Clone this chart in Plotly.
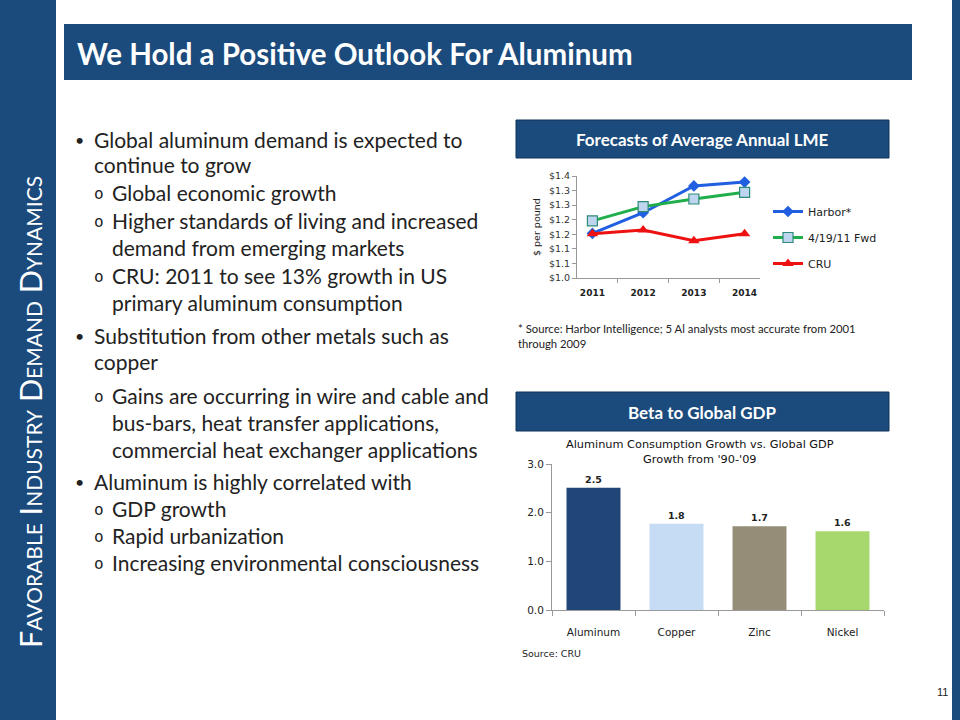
import plotly.graph_objects as go

# ---------------- data ----------------
years = ["2011", "2012", "2013", "2014"]
harbor = [1.153, 1.224, 1.316, 1.329]
fwd = [1.196, 1.245, 1.271, 1.294]
cru = [1.152, 1.165, 1.128, 1.152]
lme_tickvals = [1.00, 1.05, 1.10, 1.15, 1.20, 1.25, 1.30, 1.35]
lme_ticktext = ["$1.0", "$1.1", "$1.1", "$1.2", "$1.2", "$1.3", "$1.3", "$1.4"]

metals = ["Aluminum", "Copper", "Zinc", "Nickel"]
beta = [2.51, 1.77, 1.72, 1.62]
metal_colors = ["#1F4677", "#C6DCF5", "#958D78", "#A7D86E"]

W, H = 960, 720
NAVY = "#1B4A7C"


def px(x):
    return x / W


def py(y):
    return 1 - y / H


fig = go.Figure()

# ---------------- line chart ----------------
fig.add_trace(go.Scatter(
    x=years, y=harbor, name="Harbor*", mode="lines+markers",
    line=dict(color="#1F5FE0", width=3),
    marker=dict(symbol="diamond", size=9, color="#1F5FE0"),
    xaxis="x", yaxis="y", legendgroup="a"))
fig.add_trace(go.Scatter(
    x=years, y=fwd, name="4/19/11 Fwd", mode="lines+markers",
    line=dict(color="#1FAE4A", width=3),
    marker=dict(symbol="square", size=10, color="#BDD5EE",
                line=dict(color="#2E8B7A", width=1.2)),
    xaxis="x", yaxis="y", legendgroup="b"))
fig.add_trace(go.Scatter(
    x=years, y=cru, name="CRU", mode="lines+markers",
    line=dict(color="#EE1111", width=3),
    marker=dict(symbol="triangle-up", size=10, color="#EE1111"),
    xaxis="x", yaxis="y", legendgroup="c"))

# ---------------- bar chart ----------------
fig.add_trace(go.Bar(
    x=metals, y=beta, marker=dict(color=metal_colors, line=dict(width=0)),
    texttemplate="%{y:.1f}", textposition="outside",
    textfont=dict(family="DejaVu Sans", size=9.5, color="#222", weight="bold"),
    cliponaxis=False, showlegend=False, width=0.65,
    xaxis="x2", yaxis="y2"))

axis_font = dict(family="DejaVu Sans", size=9.5, color="#333")

fig.update_layout(
    width=W, height=H,
    margin=dict(l=0, r=0, t=0, b=0, pad=0, autoexpand=False),
    paper_bgcolor="white", plot_bgcolor="rgba(0,0,0,0)",
    font=dict(family="DejaVu Sans", color="#222"),
    showlegend=True,
    legend=dict(x=px(768), y=py(197), xanchor="left", yanchor="top",
                font=dict(family="DejaVu Sans", size=11, color="#222"),
                tracegroupgap=7, bgcolor="rgba(0,0,0,0)", itemwidth=30),
    xaxis=dict(domain=[px(577), px(760)], type="category",
               showgrid=False, showline=True, linecolor="#999", linewidth=1,
               ticks="outside", tickson="boundaries", ticklen=4, tickcolor="#999",
               tickfont=dict(family="DejaVu Sans", size=9, color="#222", weight="bold"),
               ticklabelstandoff=6, zeroline=False),
    yaxis=dict(domain=[py(278), py(176)], range=[1.0, 1.35],
               tickvals=lme_tickvals, ticktext=lme_ticktext,
               showgrid=False, showline=True, linecolor="#999", linewidth=1,
               ticks="outside", ticklen=4, tickcolor="#999",
               tickfont=axis_font, zeroline=False),
    xaxis2=dict(domain=[px(552), px(884)], type="category",
                showgrid=False, showline=True, linecolor="#999", linewidth=1,
                ticks="outside", tickson="boundaries", ticklen=5, tickcolor="#999",
                tickfont=dict(family="DejaVu Sans", size=10.5, color="#222"),
                ticklabelstandoff=12, zeroline=False, anchor="y2"),
    yaxis2=dict(domain=[py(610), py(464)], range=[0, 3], dtick=1,
                tickformat=".1f",
                showgrid=False, showline=True, linecolor="#999", linewidth=1,
                ticks="outside", ticklen=5, tickcolor="#999",
                tickfont=dict(family="DejaVu Sans", size=10.5, color="#222"),
                zeroline=False, anchor="x2"),
)

shapes = []
ann = []

# side bars
shapes.append(dict(type="rect", xref="paper", yref="paper", x0=0, x1=px(56), y0=0, y1=1,
                   fillcolor=NAVY, line=dict(width=0), layer="below"))
shapes.append(dict(type="rect", xref="paper", yref="paper", x0=px(952), x1=1, y0=0, y1=1,
                   fillcolor=NAVY, line=dict(width=0), layer="below"))
# title bar
shapes.append(dict(type="rect", xref="paper", yref="paper", x0=px(64), x1=px(912), y0=py(80), y1=py(24),
                   fillcolor=NAVY, line=dict(width=0), layer="below"))
# chart header boxes
for y0, y1 in [(120, 158), (392, 431)]:
    shapes.append(dict(type="rect", xref="paper", yref="paper", x0=px(516), x1=px(889), y0=py(y1), y1=py(y0),
                       fillcolor=NAVY, line=dict(color="#10335A", width=1), layer="below"))

ann.append(dict(text="We Hold a Positive Outlook For Aluminum", x=px(75), y=py(54), xanchor="left", yanchor="middle",
                font=dict(family="Lato", size=29.5, color="white", weight="bold")))
ann.append(dict(text="Favorable Industry Demand Dynamics", x=px(30), y=py(412), textangle=-90,
                xanchor="center", yanchor="middle",
                font=dict(family="Lato", size=30.5, color="white", variant="small-caps")))
ann.append(dict(text="Forecasts of Average Annual LME", x=px(702), y=py(140), xanchor="center", yanchor="middle",
                font=dict(family="Lato", size=17, color="white", weight="bold")))
ann.append(dict(text="Beta to Global GDP", x=px(702), y=py(412), xanchor="center", yanchor="middle",
                font=dict(family="Lato", size=17, color="white", weight="bold")))
ann.append(dict(text="$ per pound", x=px(536), y=py(227), textangle=-90, xanchor="center", yanchor="middle",
                font=dict(family="DejaVu Sans", size=9.5, color="#222")))
ann.append(dict(text="* Source: Harbor Intelligence; 5 Al analysts most accurate from 2001<br>through 2009",
                x=px(516), y=py(336), xanchor="left", yanchor="middle", align="left",
                font=dict(family="Lato", size=11.3, color="#222")))
ann.append(dict(text="Aluminum Consumption Growth vs. Global GDP<br>Growth from '90-'09",
                x=px(700), y=py(452), xanchor="center", yanchor="middle", align="center",
                font=dict(family="DejaVu Sans", size=11.3, color="#111")))
ann.append(dict(text="Source: CRU", x=px(520), y=py(653), xanchor="left", yanchor="middle",
                font=dict(family="DejaVu Sans", size=9.5, color="#222")))
ann.append(dict(text="11", x=px(950), y=py(692), xanchor="right", yanchor="middle",
                font=dict(family="Liberation Sans", size=11, color="#222")))

# bullet text
bullets = [
    (0, "Global aluminum demand is expected to", 139, True),
    (0, "continue to grow", 165, False),
    (1, "Global economic growth", 193, True),
    (1, "Higher standards of living and increased", 220, True),
    (1, "demand from emerging markets", 247, False),
    (1, "CRU: 2011 to see 13% growth in US", 275, True),
    (1, "primary aluminum consumption", 302, False),
    (0, "Substitution from other metals such as", 335, True),
    (0, "copper", 361, False),
    (1, "Gains are occurring in wire and cable and", 395, True),
    (1, "bus-bars, heat transfer applications,", 422, False),
    (1, "commercial heat exchanger applications", 449, False),
    (0, "Aluminum is highly correlated with", 482, True),
    (1, "GDP growth", 508, True),
    (1, "Rapid urbanization", 535, True),
    (1, "Increasing environmental consciousness", 562, True),
]
body_font = dict(family="Lato", size=21, color="#222")
for level, text, y, mark in bullets:
    tx = 92 if level == 0 else 110
    ann.append(dict(text=text, x=px(tx), y=py(y), xanchor="left", yanchor="middle", font=body_font))
    if mark:
        if level == 0:
            ann.append(dict(text="•", x=px(79), y=py(y), xanchor="center", yanchor="middle",
                            font=dict(family="Lato", size=16, color="#222")))
        else:
            ann.append(dict(text="o", x=px(99), y=py(y + 1), xanchor="center", yanchor="middle",
                            font=dict(family="DejaVu Sans Mono", size=16, color="#222")))

for a in ann:
    a.setdefault("xref", "paper")
    a.setdefault("yref", "paper")
    a.setdefault("showarrow", False)

fig.update_layout(shapes=shapes, annotations=ann)

post = ("document.body.style.margin='0';document.body.style.overflow='hidden';"
        "var gd=document.getElementById('{plot_id}');"
        "gd.style.position='absolute';gd.style.left='0px';gd.style.top='0px';")
fig.write_html("out.html", post_script=post, config={"displayModeBar": False})
